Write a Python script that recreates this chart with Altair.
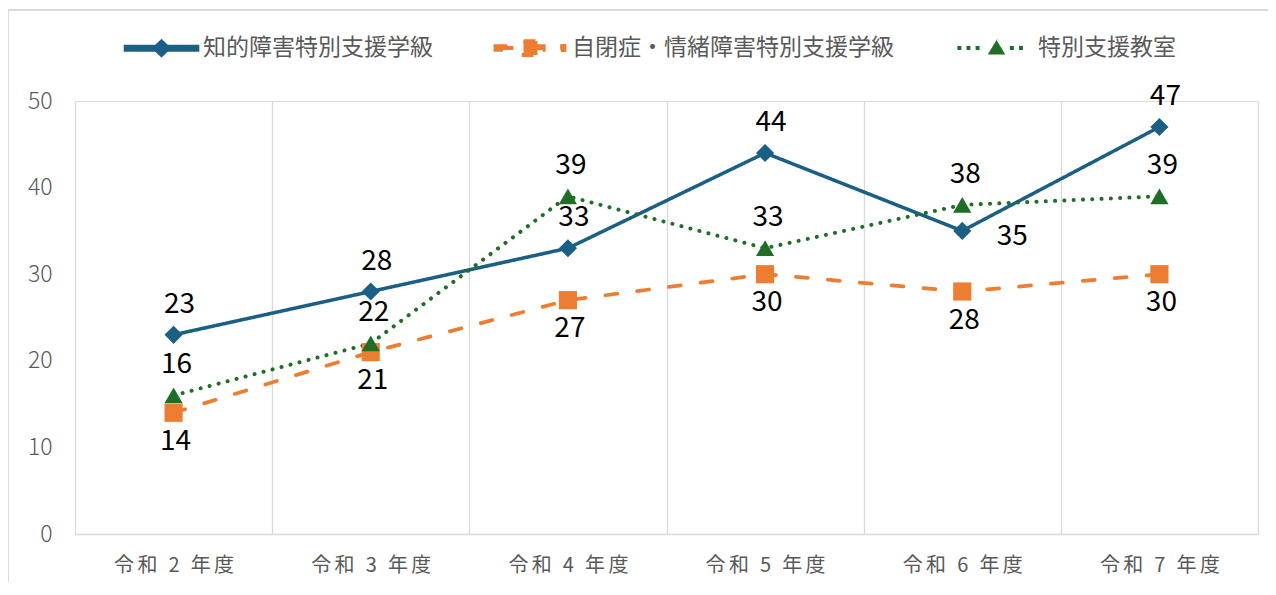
import altair as alt
import pandas as pd

# ---- data ----
years = ["令和 2 年度", "令和 3 年度", "令和 4 年度", "令和 5 年度", "令和 6 年度", "令和 7 年度"]
series = ["知的障害特別支援学級", "自閉症・情緒障害特別支援学級", "特別支援教室"]
chiteki = [23, 28, 33, 44, 35, 47]
jiheisho = [14, 21, 27, 30, 28, 30]
kyoshitsu = [16, 22, 39, 33, 38, 39]
y_ticks = [0, 10, 20, 30, 40, 50]

colors = ["#1B6084", "#ED7D31", "#1E6E28"]
shapes = ["diamond", "square", "triangle-up"]
FONT = "Noto Sans CJK JP"
GRID = "#D9D9D9"
LABEL_GRAY = "#595959"

rows = []
for s, vals in zip(series, [chiteki, jiheisho, kyoshitsu]):
    for yr, v in zip(years, vals):
        rows.append({"year": yr, "series": s, "value": v})
df = pd.DataFrame(rows)

W, H = 1183, 433


# ---- legend symbols (line + marker) as custom paths, unit = sqrt(size)/2 ----
def rect(x0, x1, h):
    return f"M{x0},{-h}L{x1},{-h}L{x1},{h}L{x0},{h}Z"


p_blue = rect(-5.15, 5.15, 0.25) + "M0,-1L1.05,0L0,1L-1.05,0Z"
p_orange = (rect(-5.0, -2.45, 0.27) + "M-1,-1L1,-1L1,1L-1,1Z"
            + rect(0.9, 1.9, 0.27) + rect(4.25, 4.85, 0.3))
p_green = ("".join(rect(c - 0.28, c + 0.28, 0.28) for c in [-5.3, -4.0, -2.7, 2.2, 3.5])
           + "M0,-1.15L1.25,0.95L-1.25,0.95Z")
sym_expr = (f"datum.value == '{series[0]}' ? '{p_blue}' : "
            f"datum.value == '{series[1]}' ? '{p_orange}' : '{p_green}'")

cscale = alt.Scale(domain=series, range=colors)
legend = alt.Legend(
    title=None, orient="none", legendX=75, legendY=-65,
    direction="horizontal", symbolType={"expr": sym_expr},
    symbolSize=196, symbolStrokeWidth=0, symbolOpacity=1,
    labelFont=FONT, labelFontSize=23, labelColor=LABEL_GRAY,
    labelOffset=30, columnPadding=55, padding=0, labelLimit=600,
)

x_enc = alt.X(
    "year:N", sort=years, title=None,
    scale=alt.Scale(type="band", domain=years, paddingInner=0, paddingOuter=0),
    axis=alt.Axis(
        tickBand="extent", grid=True, gridColor=GRID, gridWidth=1.3,
        ticks=False, domain=True, domainColor=GRID, domainWidth=1.3,
        labelAngle=0, labelFont=FONT, labelFontSize=20, labelColor=LABEL_GRAY,
        labelPadding=21, labelExpr="join(split(datum.label, ''), '\u2006')",
    ),
)
y_enc = alt.Y(
    "value:Q", title=None,
    scale=alt.Scale(domain=[0, 50], nice=False, zero=True),
    axis=alt.Axis(
        values=y_ticks, grid=False, ticks=False, domain=False,
        labelFont=FONT, labelFontSize=23, labelColor=LABEL_GRAY, labelPadding=23,
        labelFontWeight=300,
    ),
)

base = alt.Chart(df).encode(x=x_enc, y=y_enc)

lines = base.mark_line(strokeCap="round", strokeJoin="round").encode(
    color=alt.Color("series:N", scale=cscale, legend=legend),
    strokeDash=alt.StrokeDash(
        "series:N", legend=None,
        scale=alt.Scale(domain=series, range=[[1, 0], [12, 20], [0.1, 9.2]]),
    ),
    strokeWidth=alt.StrokeWidth(
        "series:N", legend=None, scale=alt.Scale(domain=series, range=[3.5, 4, 4.5])
    ),
    detail="series:N",
)

point_layers = [
    base.transform_filter(alt.datum.series == s)
    .mark_point(filled=True, opacity=1, size=330, shape=shp)
    .encode(color=alt.Color("series:N", scale=cscale, legend=legend))
    for s, shp in zip(series, shapes)
]

txt = dict(font=FONT, fontSize=28, color="black", baseline="middle", align="center")
lab_blue = base.transform_filter(
    (alt.datum.series == series[0]) & (alt.datum.year != years[4])
).mark_text(dy=-30, dx=6, **txt).encode(text="value:Q")
lab_blue_r = base.transform_filter(
    (alt.datum.series == series[0]) & (alt.datum.year == years[4])
).mark_text(dy=6, dx=50, **txt).encode(text="value:Q")
lab_orange = base.transform_filter(alt.datum.series == series[1]).mark_text(
    dy=29, dx=2, **txt).encode(text="value:Q")
lab_green = base.transform_filter(alt.datum.series == series[2]).mark_text(
    dy=-30, dx=3, **txt).encode(text="value:Q")

# outer chart frame (left and top edges)
frame_left = alt.Chart(df).mark_rule(color=GRID, strokeWidth=1.5).encode(
    x=alt.value(-67.5), y=alt.value(-91), y2=alt.value(H + 60))
frame_top = alt.Chart(df).mark_rule(color=GRID, strokeWidth=1.5).encode(
    x=alt.value(-67.5), x2=alt.value(W + 40), y=alt.value(-91))

chart = alt.layer(
    lines, *point_layers, frame_left, frame_top,
    lab_blue, lab_blue_r, lab_orange, lab_green
).properties(
    width=W, height=H,
    autosize=alt.AutoSizeParams(type="none"),
    padding={"left": 67, "top": 93, "right": 10, "bottom": 48},
).configure_view(stroke=None).configure(background="white")

chart.save("out.html", embed_options={"renderer": "svg", "actions": False})
